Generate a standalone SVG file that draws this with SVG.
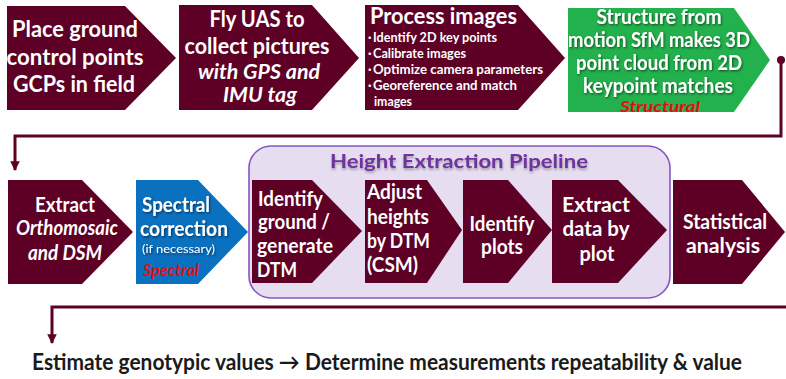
<svg xmlns="http://www.w3.org/2000/svg" width="786" height="379" viewBox="0 0 786 379">
<defs>
<style>
.m{fill:#5E0026}
.g{fill:#22B14C}
.b{fill:#0A70C0}
text{font-family:Lato,"Open Sans","Liberation Sans",sans-serif;font-weight:bold}
.w{fill:#ffffff}
.h1{font-size:23px}
.h2{font-size:21px}
.gt{font-size:20px}
.sm{font-size:12.5px}
.it{font-style:italic}
.red{fill:#E01010;font-style:italic}
.c{text-anchor:middle}
.ln{fill:none;stroke:#5E0026;stroke-width:3}
</style>
<filter id="sh" x="-10%" y="-20%" width="120%" height="150%">
<feDropShadow dx="1" dy="1.2" stdDeviation="0.8" flood-color="#000" flood-opacity="0.55"/>
</filter>
<filter id="tsh" x="-5%" y="-20%" width="110%" height="160%">
<feDropShadow dx="0.5" dy="2" stdDeviation="0.8" flood-color="#555" flood-opacity="0.5"/>
</filter>
<marker id="ah" viewBox="0 0 10 10" refX="9" refY="5" markerWidth="3.2" markerHeight="3.2" orient="auto">
<path d="M0,0 L10,5 L0,10 Z" fill="#5E0026"/>
</marker>
</defs>
<rect width="786" height="379" fill="#ffffff"/>

<g id="pipeline">
<rect x="249" y="146" width="421" height="152" rx="22" fill="#E6DDF1" stroke="#8455C2" stroke-width="1.6"/>
<text x="459" y="168" class="c" font-size="19.5" fill="#7030A0" filter="url(#tsh)" textLength="258" lengthAdjust="spacingAndGlyphs">Height Extraction Pipeline</text>
</g>

<g id="connectors">
<circle cx="781" cy="60" r="4" fill="#5E0026"/>
<polyline class="ln" points="781,60 781,136 15,136 15,170" marker-end="url(#ah)"/>
<polyline class="ln" points="786,307 52,307 52,343" marker-end="url(#ah)"/>
</g>

<g id="n1">
<path class="m" d="M7,6 H125 L176,58 L125,110 H7 Z"/>
<text class="w h1 c" x="75" y="37" textLength="126" lengthAdjust="spacingAndGlyphs">Place ground</text>
<text class="w h1 c" x="75" y="65" textLength="137" lengthAdjust="spacingAndGlyphs">control points</text>
<text class="w h1 c" x="74" y="92" textLength="122" lengthAdjust="spacingAndGlyphs">GCPs in field</text>
</g>

<g id="n2">
<path class="m" d="M179,5 H312 L359,58 L312,110 H179 Z"/>
<text class="w h1 c" x="257" y="27" textLength="95" lengthAdjust="spacingAndGlyphs">Fly UAS to</text>
<text class="w h1 c" x="257" y="54" textLength="145" lengthAdjust="spacingAndGlyphs">collect pictures</text>
<text class="w c it" x="259" y="79" font-size="20.5" textLength="122" lengthAdjust="spacingAndGlyphs">with GPS and</text>
<text class="w c it" x="260" y="102" font-size="20.5" textLength="74" lengthAdjust="spacingAndGlyphs">IMU tag</text>
</g>

<g id="n3">
<path class="m" d="M365,5 H518 L565,58 L518,110 H365 Z"/>
<text class="w h1" x="370" y="24" textLength="147" lengthAdjust="spacingAndGlyphs">Process images</text>
<text class="w sm" x="368" y="42">·</text>
<text class="w sm" x="373" y="42" textLength="124" lengthAdjust="spacingAndGlyphs">Identify 2D key points</text>
<text class="w sm" x="368" y="58">·</text>
<text class="w sm" x="373" y="58" textLength="93" lengthAdjust="spacingAndGlyphs">Calibrate images</text>
<text class="w sm" x="368" y="74">·</text>
<text class="w sm" x="373" y="74" textLength="170" lengthAdjust="spacingAndGlyphs">Optimize camera  parameters</text>
<text class="w sm" x="368" y="90">·</text>
<text class="w sm" x="373" y="90" textLength="144" lengthAdjust="spacingAndGlyphs">Georeference and match</text>
<text class="w sm" x="374" y="106" textLength="38" lengthAdjust="spacingAndGlyphs">images</text>
</g>

<g id="n4">
<path class="g" d="M568,8 H734 L770,60 L734,112 H568 Z"/>
<g filter="url(#sh)">
<text class="w gt c" x="659" y="24" textLength="125" lengthAdjust="spacingAndGlyphs">Structure from</text>
<text class="w gt c" x="659" y="47" textLength="182" lengthAdjust="spacingAndGlyphs">motion SfM makes 3D</text>
<text class="w gt c" x="659" y="70" textLength="166" lengthAdjust="spacingAndGlyphs">point cloud from 2D</text>
<text class="w gt c" x="658" y="93" textLength="150" lengthAdjust="spacingAndGlyphs">keypoint matches</text>
</g>
<text class="red c" x="660" y="112" font-size="15" textLength="80" lengthAdjust="spacingAndGlyphs">Structural</text>
</g>

<g id="n5">
<path class="m" d="M8,180 H82 L133,232 L82,284 H8 Z"/>
<text class="w h2 c" x="65" y="212" textLength="60" lengthAdjust="spacingAndGlyphs">Extract</text>
<text class="w h2 c it" x="67" y="235" textLength="102" lengthAdjust="spacingAndGlyphs">Orthomosaic</text>
<text class="w h2 c it" x="65" y="260" textLength="74" lengthAdjust="spacingAndGlyphs">and DSM</text>
</g>

<g id="n6">
<path class="b" d="M136,180 H198 L248,232 L198,284 H136 Z"/>
<g filter="url(#sh)">
<text class="w h2" x="142" y="212" textLength="68" lengthAdjust="spacingAndGlyphs">Spectral</text>
<text class="w h2" x="140" y="236" textLength="88" lengthAdjust="spacingAndGlyphs">correction</text>
<text class="w" x="142" y="253" font-size="12" style="font-weight:normal" textLength="73" lengthAdjust="spacingAndGlyphs">(if necessary)</text>
</g>
<text class="red" x="143" y="276" font-size="17" textLength="56" lengthAdjust="spacingAndGlyphs">Spectral</text>
</g>

<g id="n7">
<path class="m" d="M252,180 H312 L362,231 L312,283 H252 Z"/>
<text class="w h2" x="258" y="206" textLength="65" lengthAdjust="spacingAndGlyphs">Identify</text>
<text class="w h2" x="258" y="229" textLength="72" lengthAdjust="spacingAndGlyphs">ground /</text>
<text class="w h2" x="257" y="253" textLength="76" lengthAdjust="spacingAndGlyphs">generate</text>
<text class="w h2" x="257" y="277" textLength="40" lengthAdjust="spacingAndGlyphs">DTM</text>
</g>

<g id="n8">
<path class="m" d="M365,180 H427 L462,230 L427,283 H365 Z"/>
<text class="w h2" x="367" y="199" textLength="55" lengthAdjust="spacingAndGlyphs">Adjust</text>
<text class="w h2" x="367" y="224" textLength="62" lengthAdjust="spacingAndGlyphs">heights</text>
<text class="w h2" x="367" y="248" textLength="63" lengthAdjust="spacingAndGlyphs">by DTM</text>
<text class="w h2" x="367" y="272" textLength="51" lengthAdjust="spacingAndGlyphs">(CSM)</text>
</g>

<g id="n9">
<path class="m" d="M463,180 H508 L552,230 L508,283 H463 Z"/>
<text class="w h2 c" x="502" y="231" textLength="65" lengthAdjust="spacingAndGlyphs">Identify</text>
<text class="w h2 c" x="502" y="254" textLength="42" lengthAdjust="spacingAndGlyphs">plots</text>
</g>

<g id="n10">
<path class="m" d="M552,180 H618 L667,230 L618,283 H552 Z"/>
<text class="w h2 c" x="596" y="212" textLength="68" lengthAdjust="spacingAndGlyphs">Extract</text>
<text class="w h2 c" x="596" y="236" textLength="67" lengthAdjust="spacingAndGlyphs">data by</text>
<text class="w h2 c" x="597" y="261" textLength="35" lengthAdjust="spacingAndGlyphs">plot</text>
</g>

<g id="n11">
<path class="m" d="M673,180 H742 L785,232 L742,284 H673 Z"/>
<text class="w h2 c" x="725" y="229" textLength="84" lengthAdjust="spacingAndGlyphs">Statistical</text>
<text class="w h2 c" x="723" y="253" textLength="74" lengthAdjust="spacingAndGlyphs">analysis</text>
</g>

<g id="n12">
<text x="32" y="370" font-size="22" fill="#1A1A1A" textLength="710" lengthAdjust="spacingAndGlyphs">Estimate genotypic values → Determine measurements repeatability &amp; value</text>
</g>
</svg>
